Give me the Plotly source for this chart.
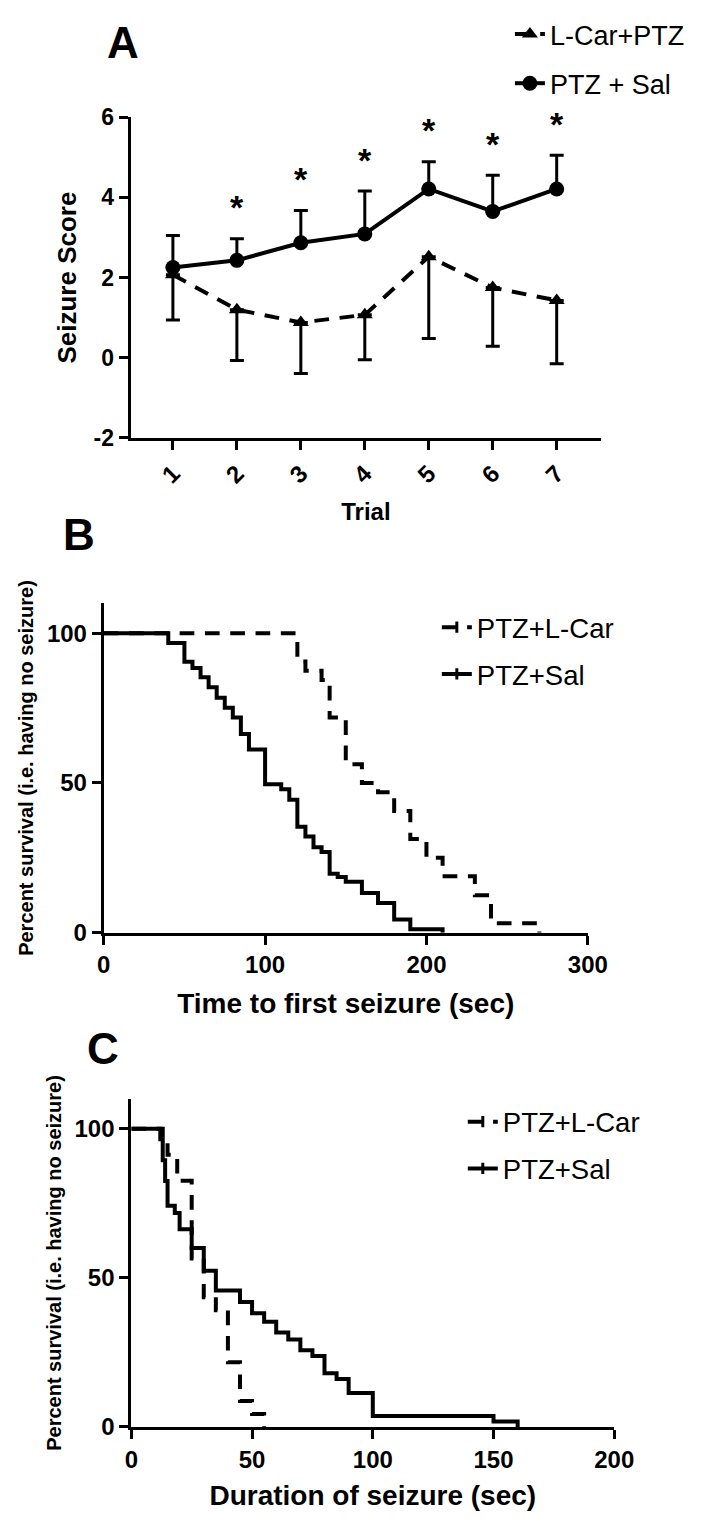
import plotly.graph_objects as go

W, H = 703, 1533
FONT = "Liberation Sans, Arial, Helvetica, sans-serif"

# ---------------- Panel A data ----------------
trials = [1, 2, 3, 4, 5, 6, 7]
sal_mean = [2.25, 2.43, 2.87, 3.09, 4.21, 3.65, 4.21]
sal_sd = [0.80, 0.54, 0.80, 1.07, 0.68, 0.90, 0.84]
lcar_mean = [2.07, 1.20, 0.88, 1.07, 2.52, 1.75, 1.43]
lcar_sd = [1.13, 1.27, 1.27, 1.12, 2.04, 1.46, 1.58]
star_trials = [2, 3, 4, 5, 6, 7]
a_yticks = [-2, 0, 2, 4, 6]

# ---------------- Panel B data (time to first seizure) ----------------
b_sal_t = [0, 40, 50, 55, 60, 65, 70, 75, 80, 85, 90, 100, 110, 115, 120, 125,
           130, 135, 140, 145, 150, 160, 170, 180, 190, 210]
b_sal_s = [100, 96.8, 90.5, 88.4, 85.3, 82.0, 78.5, 75.1, 71.9, 66.4, 61.2, 49.6,
           47.9, 44.4, 35.4, 32.1, 28.5, 26.9, 19.7, 18.6, 17.0, 13.2, 9.9, 4.4, 1.1, 0]
b_lcar_t = [0, 120, 125, 135, 140, 150, 160, 170, 180, 190, 200, 210, 230, 240, 270]
b_lcar_s = [100, 90.6, 87.5, 84.4, 71.9, 56.3, 50.0, 46.9, 40.6, 31.3, 25.0, 18.8,
            12.5, 3.1, 0]
b_xticks = [0, 100, 200, 300]

# ---------------- Panel C data (duration of seizure) ----------------
c_sal_t = [0, 12, 13, 14, 15, 18, 20, 25, 30, 35, 45, 50, 55, 60, 65, 70, 75, 80,
           85, 90, 100, 150, 160]
c_sal_s = [100, 96.5, 89.5, 82.5, 74.2, 71.8, 66.3, 60.0, 52.4, 45.8, 41.9, 38.1,
           35.3, 31.7, 29.3, 25.7, 23.8, 18.0, 16.1, 11.4, 3.7, 1.8, 0]
c_lcar_t = [0, 13, 15, 19, 25, 30, 35, 40, 45, 50, 55]
c_lcar_s = [100, 95.7, 91.3, 82.6, 56.5, 43.5, 39.1, 21.7, 8.7, 4.3, 0]
c_xticks = [0, 50, 100, 150, 200]
surv_yticks = [0, 50, 100]


def px_x(p):
    return p / W


def px_y(p):
    return 1 - p / H


DASH = "14.7px,10.6px"
fig = go.Figure()

# ---- Panel A traces ----
fig.add_trace(go.Scatter(
    x=trials, y=lcar_mean, mode="lines+markers", name="L-Car+PTZ",
    line=dict(color="black", width=4, dash=DASH),
    marker=dict(symbol="triangle-up", size=14, color="black"),
    error_y=dict(type="data", symmetric=False, array=[0] * len(lcar_sd),
                 arrayminus=lcar_sd, color="black", thickness=3, width=7),
    legend="legend", legendgroup="a1", xaxis="x", yaxis="y"))
fig.add_trace(go.Scatter(
    x=trials, y=sal_mean, mode="lines+markers", name="PTZ + Sal",
    line=dict(color="black", width=4),
    marker=dict(symbol="circle", size=15, color="black"),
    error_y=dict(type="data", symmetric=False, array=sal_sd,
                 arrayminus=[0] * len(sal_sd), color="black", thickness=3, width=7),
    legend="legend", legendgroup="a2", xaxis="x", yaxis="y"))

# ---- Panel B traces ----
fig.add_trace(go.Scatter(x=b_lcar_t, y=b_lcar_s, mode="lines", line_shape="hv",
                         line=dict(color="black", width=4, dash=DASH),
                         showlegend=False, xaxis="x2", yaxis="y2", cliponaxis=False))
fig.add_trace(go.Scatter(x=b_sal_t, y=b_sal_s, mode="lines", line_shape="hv",
                         line=dict(color="black", width=4),
                         showlegend=False, xaxis="x2", yaxis="y2", cliponaxis=False))
# ---- Panel C traces ----
fig.add_trace(go.Scatter(x=c_lcar_t, y=c_lcar_s, mode="lines", line_shape="hv",
                         line=dict(color="black", width=4, dash=DASH),
                         showlegend=False, xaxis="x3", yaxis="y3", cliponaxis=False))
fig.add_trace(go.Scatter(x=c_sal_t, y=c_sal_s, mode="lines", line_shape="hv",
                         line=dict(color="black", width=4),
                         showlegend=False, xaxis="x3", yaxis="y3", cliponaxis=False))

# ---- legend-only entries for B and C (line with censor tick) ----
for lg, xa, ya in [("legend2", "x2", "y2"), ("legend3", "x3", "y3")]:
    fig.add_trace(go.Scatter(
        x=[None], y=[None], mode="lines+markers", name="PTZ+L-Car",
        line=dict(color="black", width=4, dash=DASH),
        marker=dict(symbol="line-ns", size=8, line=dict(width=3, color="black")),
        legend=lg, legendgroup=lg + "a", xaxis=xa, yaxis=ya))
    fig.add_trace(go.Scatter(
        x=[None], y=[None], mode="lines+markers", name="PTZ+Sal",
        line=dict(color="black", width=4),
        marker=dict(symbol="line-ns", size=8, line=dict(width=3, color="black")),
        legend=lg, legendgroup=lg + "b", xaxis=xa, yaxis=ya))

bold = dict(family=FONT, color="black", weight="bold")


def axis_common():
    return dict(showline=True, linewidth=3, linecolor="black", ticks="outside",
                ticklen=9, tickwidth=3, tickcolor="black", showgrid=False,
                zeroline=False, fixedrange=True)


# ---- asterisks ----
annotations = []
for t in star_trials:
    i = trials.index(t)
    annotations.append(dict(
        x=t, y=sal_mean[i] + sal_sd[i] + 0.88, xref="x", yref="y", text="*",
        showarrow=False, yshift=-4, font=dict(size=34, **bold)))

# ---- panel letters ----
for letter, cx, cy in [("A", 121, 30), ("B", 75, 531), ("C", 100, 1053)]:
    annotations.append(dict(x=px_x(cx), y=px_y(cy), xref="paper", yref="paper",
                            text=letter, showarrow=False, xanchor="center",
                            yanchor="middle", font=dict(size=44, **bold)))

fig.update_layout(
    width=W, height=H, margin=dict(l=0, r=0, t=0, b=0),
    paper_bgcolor="white", plot_bgcolor="white",
    font=dict(family=FONT, color="black"),
    xaxis=dict(domain=[px_x(128.5), px_x(618)], range=[0.338, 7.697],
               tickvals=trials, tickangle=-45, anchor="y",
               tickfont=dict(size=24, **bold),
               title=dict(text="Trial", font=dict(size=24, **bold), standoff=16),
               **axis_common()),
    yaxis=dict(domain=[px_y(432.3), px_y(106)], range=[-2, 6], tickvals=a_yticks,
               ticktext=[str(v) for v in a_yticks],
               anchor="x", tickfont=dict(size=23, **bold),
               title=dict(text="Seizure Score", font=dict(size=26, **bold), standoff=10),
               **axis_common()),
    xaxis2=dict(domain=[px_x(100.6), px_x(604)], range=[0, 300], tickvals=b_xticks,
                anchor="y2", tickfont=dict(size=24, **bold),
                title=dict(text="Time to first seizure (sec)", font=dict(size=28, **bold),
                           standoff=16),
                **axis_common()),
    yaxis2=dict(domain=[px_y(935.5), px_y(600.6)], range=[0, 110], tickvals=surv_yticks,
                anchor="x2", tickfont=dict(size=24, **bold),
                title=dict(text="Percent survival (i.e. having no seizure)",
                           font=dict(size=20, **bold), standoff=8),
                **axis_common()),
    xaxis3=dict(domain=[px_x(129.3), px_x(631.5)], range=[0, 200], tickvals=c_xticks,
                anchor="y3", tickfont=dict(size=24, **bold),
                title=dict(text="Duration of seizure (sec)", font=dict(size=28, **bold),
                           standoff=14),
                **axis_common()),
    yaxis3=dict(domain=[px_y(1438.3), px_y(1104.8)], range=[0, 110], tickvals=surv_yticks,
                anchor="x3", tickfont=dict(size=24, **bold),
                title=dict(text="Percent survival (i.e. having no seizure)",
                           font=dict(size=20, **bold), standoff=8),
                **axis_common()),
    legend=dict(x=px_x(523), y=px_y(-3), xanchor="left", yanchor="top",
                font=dict(size=27, family=FONT, color="black"),
                bgcolor="rgba(0,0,0,0)", traceorder="grouped", tracegroupgap=11),
    legend2=dict(x=px_x(447), y=px_y(600), xanchor="left", yanchor="top",
                 font=dict(size=27.5, family=FONT, color="black"),
                 bgcolor="rgba(0,0,0,0)", traceorder="grouped", tracegroupgap=8),
    legend3=dict(x=px_x(474), y=px_y(1103), xanchor="left", yanchor="top",
                 font=dict(size=27.5, family=FONT, color="black"),
                 bgcolor="rgba(0,0,0,0)", traceorder="grouped", tracegroupgap=8),
    annotations=annotations,
    showlegend=True,
)

fig.write_html("out.html",
               config={"displayModeBar": False},
               post_script="document.body.style.margin='0px';"
                           "document.body.style.overflow='hidden';")
